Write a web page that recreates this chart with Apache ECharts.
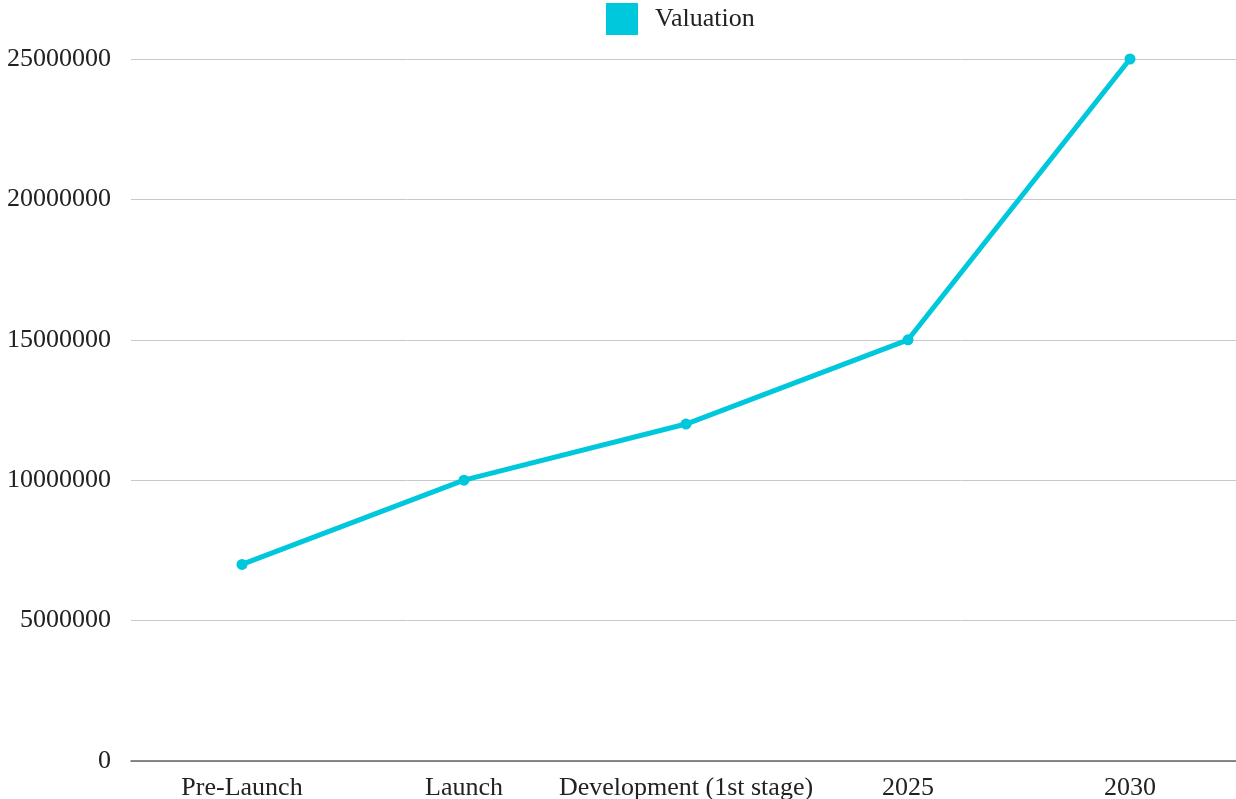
<!DOCTYPE html>
<html>
<head>
<meta charset="utf-8">
<script src="https://cdn.jsdelivr.net/npm/echarts@6/dist/echarts.min.js"></script>
<style>
  html, body { margin: 0; padding: 0; background: #fff; }
  #chart { width: 1236px; height: 799px; }
</style>
</head>
<body>
<div id="chart"></div>
<script>
var stages = ["Pre-Launch", "Launch", "Development (1st stage)", "2025", "2030"];
var valuation = [7000000, 10000000, 12000000, 15000000, 25000000];
var seriesName = "Valuation";

var myChart = echarts.init(document.getElementById("chart"));
var font = "'Liberation Serif', 'DejaVu Serif', serif";

var option = {
    animation: false,
    legend: {
        data: [seriesName],
        left: 606,
        top: 3,
        padding: 0,
        itemWidth: 32,
        itemHeight: 32,
        itemGap: 10,
        icon: "rect",
        textStyle: { fontFamily: font, fontSize: 26, color: "#222", padding: [5, 0, 0, 12] }
    },
    grid: {
        left: 131,
        top: 59,
        width: 1110,
        bottom: 38,
        containLabel: false,
        outerBoundsMode: "none"
    },
    xAxis: {
        type: "category",
        data: stages,
        boundaryGap: true,
        axisLine: { lineStyle: { color: "#666", width: 1.5 } },
        axisTick: { show: false },
        axisLabel: { fontFamily: font, fontSize: 26, color: "#222", margin: 14, interval: 0 }
    },
    yAxis: {
        type: "value",
        min: 0,
        max: 25000000,
        interval: 5000000,
        axisLine: { show: false },
        axisTick: { show: false },
        splitLine: { lineStyle: { color: "#c8c8c8", width: 1 } },
        axisLabel: {
            fontFamily: font, fontSize: 26, color: "#222", margin: 20,
            formatter: function (v) { return String(v); }
        }
    },
    series: [{
        name: seriesName,
        type: "line",
        data: valuation,
        color: "#00c8dc",
        symbol: "circle",
        symbolSize: 11,
        lineStyle: { width: 5 }
    }]
};
myChart.setOption(option);
</script>
</body>
</html>
